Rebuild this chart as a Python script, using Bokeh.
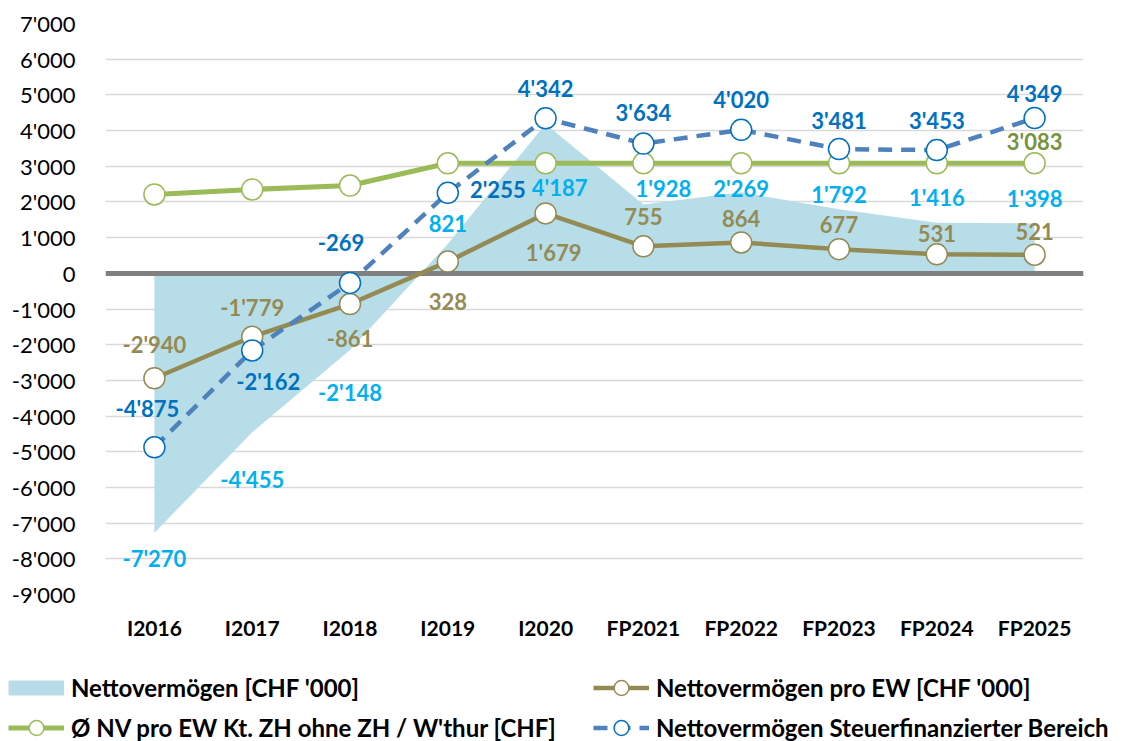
from bokeh.plotting import figure
from bokeh.layouts import column, row
from bokeh.models import Legend, LegendItem, FixedTicker, ColumnDataSource
from bokeh.core.properties import value
from bokeh.embed import file_html
from bokeh.resources import INLINE

# ---------------- data ----------------
categories = ["I2016", "I2017", "I2018", "I2019", "I2020",
              "FP2021", "FP2022", "FP2023", "FP2024", "FP2025"]
nettovermoegen = [-7270, -4455, -2148, 821, 4187, 1928, 2269, 1792, 1416, 1398]
nv_pro_ew = [-2940, -1779, -861, 328, 1679, 755, 864, 677, 531, 521]
nv_kanton = [2210, 2350, 2460, 3083, 3083, 3083, 3083, 3083, 3083, 3083]
nv_steuer = [-4875, -2162, -269, 2255, 4342, 3634, 4020, 3481, 3453, 4349]
y_ticks = list(range(-9000, 8000, 1000))

series_names = ["Nettovermögen [CHF '000]",
                "Nettovermögen pro EW [CHF '000]",
                "Ø NV pro EW Kt. ZH ohne ZH / W'thur [CHF]",
                "Nettovermögen Steuerfinanzierter Bereich"]

# label placement (screen px offsets relative to the data point)
area_dx = [0, 0, 0, 0, 14, 20, 0, 0, 0, 0]
area_dy = [26, 47, 43, -21, 64, -16, -4, -15, -25, -25]
olive_dx = [0, 0, 0, 0, 8, 0, 0, 0, 0, 0]
olive_dy = [-34, -29, 34, 40, 39, -30, -24, -25, -21, -23]
steuer_dx = [-7, 16, -9, 50, 0, 0, 0, 0, 0, 0]
steuer_dy = [-39, 31, -40, -3, -30, -31, -30, -29, -30, -25]
green_label_idx = [9]
green_dy = -22


def fmt(v):
    s = f"{abs(v):,}".replace(",", "'")
    return ("-" if v < 0 else "") + s


FONT = "Lato"
C_AREA = "#B7DDE8"
C_AREA_TXT = "#00B0F0"
C_OLIVE = "#948A54"
C_GREEN = "#9BBB59"
C_GREEN_TXT = "#77933C"
C_BLUE = "#4F81BD"
C_BLUE_DK = "#0070C0"

W = 1128
H_MAIN = 655
H_LEG = 741 - H_MAIN

p = figure(x_range=categories, y_range=(-9000, 7000),
           width=W, height=H_MAIN, output_backend="svg",
           toolbar_location=None,
           min_border_left=105, min_border_right=45,
           min_border_top=23, min_border_bottom=H_MAIN - 594)
p.outline_line_color = None
p.background_fill_color = "white"
p.border_fill_color = "white"
p.x_range.range_padding = 0

# axes
p.yaxis.ticker = FixedTicker(ticks=y_ticks)
p.yaxis.major_label_overrides = {t: fmt(t) for t in y_ticks}
p.yaxis.axis_line_color = None
p.yaxis.major_tick_line_color = None
p.yaxis.minor_tick_line_color = None
p.yaxis.major_label_text_font = FONT
p.yaxis.major_label_text_font_size = "22px"
p.yaxis.major_label_text_color = "black"
p.yaxis.major_label_standoff = 24

p.xaxis.axis_line_color = None
p.xaxis.major_tick_line_color = None
p.xaxis.major_label_text_font = FONT
p.xaxis.major_label_text_font_style = "bold"
p.xaxis.major_label_text_font_size = "21px"
p.xaxis.major_label_text_color = "black"
p.xaxis.major_label_standoff = 14

p.xgrid.grid_line_color = None
p.ygrid.grid_line_color = "#D9D9D9"
p.ygrid.grid_line_width = 1.5

src = ColumnDataSource(dict(
    x=categories, area=nettovermoegen, olive=nv_pro_ew, green=nv_kanton,
    steuer=nv_steuer, zero=[0] * len(categories)))

area_style = dict(fill_color=C_AREA)
olive_line = dict(line_color=C_OLIVE, line_width=4.5)
olive_pt = dict(size=21, fill_color="white", line_color=C_OLIVE, line_width=1.5)
green_line = dict(line_color=C_GREEN, line_width=5)
green_pt = dict(size=21, fill_color="white", line_color=C_GREEN, line_width=1.5)
steuer_line = dict(line_color=C_BLUE, line_width=4.5, line_dash="14 9")
steuer_pt = dict(size=21, fill_color="white", line_color=C_BLUE_DK, line_width=1.5)


def draw_series(fig, legend_proxy=False):
    r = {}
    if legend_proxy:
        # the area's legend key is a flat band, drawn as a thick line
        r["area"] = fig.line("x", "area", source=src, line_color=C_AREA,
                             line_width=15)
    else:
        r["area"] = fig.varea(x="x", y1="zero", y2="area", source=src,
                              **area_style)
        fig.hspan(y=[0], line_color="#808080", line_width=5)
    r["ol"] = fig.line("x", "olive", source=src, **olive_line)
    r["op"] = fig.scatter("x", "olive", source=src, **olive_pt)
    r["gl"] = fig.line("x", "green", source=src, **green_line)
    r["gp"] = fig.scatter("x", "green", source=src, **green_pt)
    r["sl"] = fig.line("x", "steuer", source=src, **steuer_line)
    r["sp"] = fig.scatter("x", "steuer", source=src, **steuer_pt)
    return r


draw_series(p)


def add_labels(vals, dx, dy, color, idx=None):
    ids = list(range(len(vals))) if idx is None else idx
    s = ColumnDataSource(dict(
        x=[categories[i] for i in ids], y=[vals[i] for i in ids],
        t=[fmt(vals[i]) for i in ids],
        dx=[dx[i] if isinstance(dx, list) else dx for i in ids],
        dy=[dy[i] if isinstance(dy, list) else dy for i in ids]))
    p.text(x="x", y="y", text="t", x_offset="dx", y_offset="dy", source=s,
           text_font=value(FONT), text_font_style="bold",
           text_font_size="22px", text_color=color,
           text_align="center", text_baseline="middle")


add_labels(nettovermoegen, area_dx, area_dy, C_AREA_TXT)
add_labels(nv_pro_ew, olive_dx, olive_dy, C_OLIVE)
add_labels(nv_steuer, steuer_dx, steuer_dy, C_BLUE_DK)
add_labels(nv_kanton, 0, green_dy, C_GREEN_TXT, idx=green_label_idx)

# ---------------- legend strip (series drawn out of view, legend only) ----
lg = figure(width=W, height=H_LEG, output_backend="svg", toolbar_location=None,
            x_axis_location=None, y_axis_location=None,
            x_range=categories, y_range=(100000, 100001),
            min_border_left=0, min_border_right=0,
            min_border_top=0, min_border_bottom=0)
lg.outline_line_color = None
lg.grid.visible = False
rr = draw_series(lg, legend_proxy=True)

legend = Legend(items=[
    LegendItem(label=series_names[0], renderers=[rr["area"]]),
    LegendItem(label=series_names[1], renderers=[rr["ol"], rr["op"]]),
    LegendItem(label=series_names[2], renderers=[rr["gl"], rr["gp"]]),
    LegendItem(label=series_names[3], renderers=[rr["sl"], rr["sp"]]),
], location=(8, -5), orientation="horizontal", ncols=2,
    padding=0, margin=0, spacing=3, border_line_color=None,
    background_fill_alpha=0, glyph_width=56, glyph_height=37,
    label_standoff=7, label_width=519, label_height=37,
    label_text_font=FONT, label_text_font_style="bold",
    label_text_font_size="24px", label_text_color="black")
lg.add_layout(legend, "center")

layout = column(p, row(lg), spacing=0)
open("out.html", "w").write(file_html(layout, INLINE))
